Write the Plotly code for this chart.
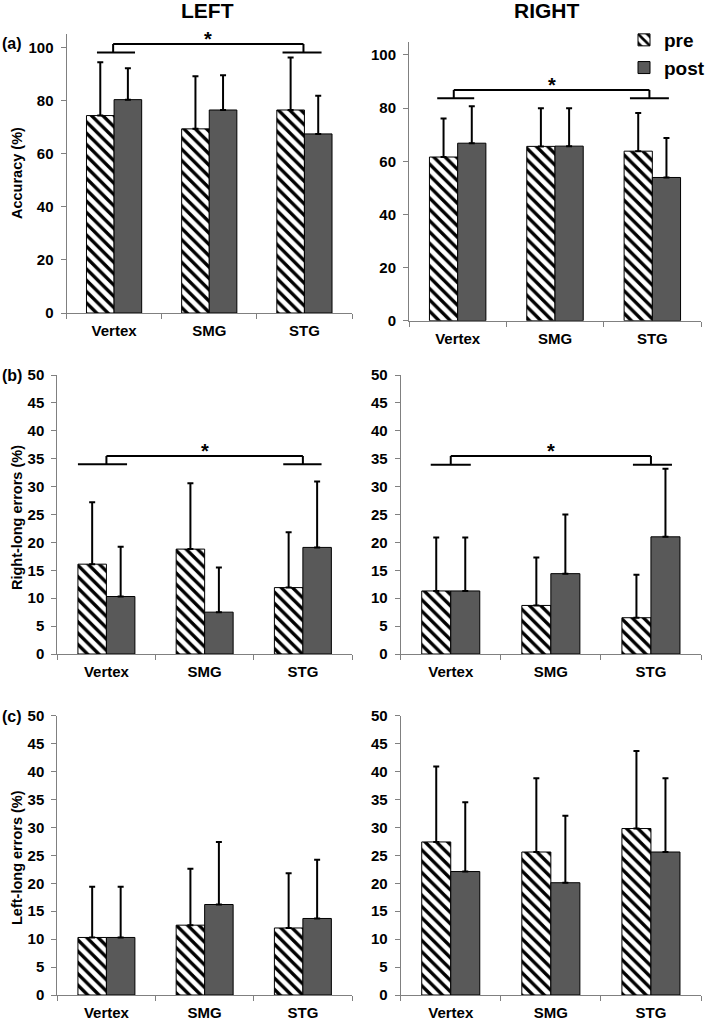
import plotly.graph_objects as go

# sites on the x axis
sites = ["Vertex", "SMG", "STG"]

# (a) accuracy (%)
acc_left_pre = [74.3, 69.3, 76.4]
acc_left_pre_sd = [20.1, 19.8, 19.8]
acc_left_post = [80.3, 76.4, 67.4]
acc_left_post_sd = [11.8, 13.1, 14.4]
acc_right_pre = [61.6, 65.6, 63.8]
acc_right_pre_sd = [14.5, 14.4, 14.4]
acc_right_post = [66.8, 65.7, 53.9]
acc_right_post_sd = [13.9, 14.3, 14.9]

# (b) right-long errors (%)
rl_left_pre = [16.1, 18.8, 11.9]
rl_left_pre_sd = [11.1, 11.8, 9.9]
rl_left_post = [10.3, 7.5, 19.1]
rl_left_post_sd = [8.9, 8.0, 11.8]
rl_right_pre = [11.3, 8.7, 6.5]
rl_right_pre_sd = [9.6, 8.6, 7.7]
rl_right_post = [11.3, 14.4, 21.0]
rl_right_post_sd = [9.6, 10.6, 12.2]

# (c) left-long errors (%)
ll_left_pre = [10.3, 12.5, 12.0]
ll_left_pre_sd = [9.1, 10.1, 9.8]
ll_left_post = [10.3, 16.2, 13.7]
ll_left_post_sd = [9.1, 11.2, 10.5]
ll_right_pre = [27.4, 25.6, 29.8]
ll_right_pre_sd = [13.5, 13.2, 13.9]
ll_right_post = [22.1, 20.1, 25.6]
ll_right_post_sd = [12.4, 12.0, 13.2]

W, H = 707, 1020
FONT = "Arial, Liberation Sans, sans-serif"
AXCOL = "#808080"
POSTCOL = "#595959"

# panel boxes in pixels: (x0, x1, ybottom, ytop, ymax, dtick)
panels = [
    (66.5, 352, 313, 34, 105, 20),
    (409, 701, 320.7, 41.7, 105, 20),
    (57.3, 352, 654, 375, 50, 5),
    (400.7, 701, 654, 375, 50, 5),
    (57.3, 352, 995, 715.7, 50, 5),
    (400.7, 701, 995, 715.7, 50, 5),
]

data = [
    (acc_left_pre, acc_left_pre_sd, acc_left_post, acc_left_post_sd),
    (acc_right_pre, acc_right_pre_sd, acc_right_post, acc_right_post_sd),
    (rl_left_pre, rl_left_pre_sd, rl_left_post, rl_left_post_sd),
    (rl_right_pre, rl_right_pre_sd, rl_right_post, rl_right_post_sd),
    (ll_left_pre, ll_left_pre_sd, ll_left_post, ll_left_post_sd),
    (ll_right_pre, ll_right_pre_sd, ll_right_post, ll_right_post_sd),
]

# significance brackets: panel index, lower y, upper y,
# (left end, right end, connector) offsets around Vertex and STG
brackets = [
    (0, 98.0, 101.2, (-0.18, 0.22, -0.01), (-0.23, 0.18, -0.01)),
    (1, 83.7, 86.8, (-0.21, 0.17, -0.04), (-0.23, 0.17, -0.03)),
    (2, 34.0, 35.5, (-0.29, 0.21, 0.0), (-0.20, 0.19, 0.0)),
    (3, 33.9, 35.5, (-0.20, 0.20, 0.0), (-0.18, 0.21, 0.0)),
]


def bold(s):
    return "<b>%s</b>" % s


fig = go.Figure()

for i, (pre, pre_sd, post, post_sd) in enumerate(data):
    xa = "x" if i == 0 else "x%d" % (i + 1)
    ya = "y" if i == 0 else "y%d" % (i + 1)
    fig.add_trace(go.Bar(
        x=sites, y=pre, name=bold("pre"), xaxis=xa, yaxis=ya,
        showlegend=(i == 0), legendgroup="pre",
        marker=dict(color="white", line=dict(color="black", width=1),
                    pattern=dict(shape="\\", fgcolor="black", bgcolor="white",
                                 fgopacity=1, fillmode="replace",
                                 size=8, solidity=0.42)),
        error_y=dict(type="data", symmetric=False, array=pre_sd,
                     arrayminus=[0] * len(pre_sd), color="black",
                     thickness=2, width=3),
    ))
    fig.add_trace(go.Bar(
        x=sites, y=post, name=bold("post"), xaxis=xa, yaxis=ya,
        showlegend=(i == 0), legendgroup="post",
        marker=dict(color=POSTCOL, line=dict(color="black", width=1)),
        error_y=dict(type="data", symmetric=False, array=post_sd,
                     arrayminus=[0] * len(post_sd), color="black",
                     thickness=2, width=3),
    ))

tickfont = dict(family=FONT, size=15, color="black")
layout = {}
for i, (x0, x1, yb, yt, ymax, dt) in enumerate(panels):
    sx = "" if i == 0 else str(i + 1)
    yticks = [v for v in range(0, 101, dt) if v <= ymax]
    layout["xaxis" + sx] = dict(
        domain=[x0 / W, x1 / W], anchor="y" + sx, type="category",
        tickvals=sites, ticktext=[bold(s) for s in sites],
        showline=True, linecolor=AXCOL, linewidth=1,
        ticks="outside", tickson="boundaries", ticklen=5, tickcolor=AXCOL,
        tickfont=tickfont, ticklabelstandoff=4,
        showgrid=False, zeroline=False,
    )
    layout["yaxis" + sx] = dict(
        domain=[1 - yb / H, 1 - yt / H], anchor="x" + sx,
        range=[0, ymax], tickvals=yticks, ticktext=[bold(v) for v in yticks],
        showline=True, linecolor=AXCOL, linewidth=1,
        ticks="outside", ticklen=5, tickcolor=AXCOL,
        tickfont=tickfont, ticklabelstandoff=4,
        showgrid=False, zeroline=False,
    )

shapes = []
annotations = []
for (p, ylo, yhi, vb, sb) in brackets:
    sx = "" if p == 0 else str(p + 1)
    xr, yr = "x" + sx, "y" + sx
    line = dict(color="black", width=2)
    for c, (a, b, k) in ((0, vb), (2, sb)):
        shapes.append(dict(type="line", xref=xr, yref=yr, x0=c + a, x1=c + b,
                           y0=ylo, y1=ylo, line=line))
        shapes.append(dict(type="line", xref=xr, yref=yr, x0=c + k, x1=c + k,
                           y0=ylo, y1=yhi, line=line))
    shapes.append(dict(type="line", xref=xr, yref=yr, x0=vb[2], x1=2 + sb[2],
                       y0=yhi, y1=yhi, line=line))
    annotations.append(dict(text=bold("*"), xref=xr, yref=yr, x=1 + (vb[2] + sb[2]) / 2,
                            y=yhi, xanchor="center", yanchor="bottom", yshift=-8,
                            showarrow=False,
                            font=dict(family=FONT, size=20, color="black")))

# column headings
for txt, xc in (("LEFT", 207), ("RIGHT", 547)):
    annotations.append(dict(text=bold(txt), xref="paper", yref="paper", x=xc / W,
                            y=1 - 11 / H, xanchor="center", yanchor="middle",
                            showarrow=False, font=dict(family=FONT, size=21, color="black")))

# panel letters
for txt, yc in (("(a)", 44), ("(b)", 375), ("(c)", 716)):
    annotations.append(dict(text=bold(txt), xref="paper", yref="paper", x=0, xanchor="left",
                            y=1 - yc / H, yanchor="middle", showarrow=False,
                            font=dict(family=FONT, size=16, color="black")))

# y titles
for txt, yc in (("Accuracy (%)", 173), ("Right-long errors (%)", 518), ("Left-long errors (%)", 858)):
    annotations.append(dict(text=bold(txt), xref="paper", yref="paper", x=17 / W, y=1 - yc / H,
                            xanchor="center", yanchor="middle",
                            textangle=-90, showarrow=False,
                            font=dict(family=FONT, size=14.5, color="black")))

fig.update_layout(
    **layout,
    width=W, height=H,
    margin=dict(l=0, r=0, t=0, b=0, autoexpand=False),
    paper_bgcolor="white", plot_bgcolor="white",
    barmode="group", bargap=0.42, bargroupgap=0,
    shapes=shapes, annotations=annotations,
    legend=dict(x=624 / W, y=1 - 21 / H, xanchor="left", yanchor="top",
                font=dict(family=FONT, size=19, color="black"),
                itemwidth=30, tracegroupgap=0, bgcolor="rgba(0,0,0,0)",
                traceorder="normal"),
    font=dict(family=FONT),
)

# page body has a default 8px margin; drop it so the figure sits at 0,0
fig.write_html("out.html", config={"displayModeBar": False},
               post_script="document.body.style.margin='0px';")
